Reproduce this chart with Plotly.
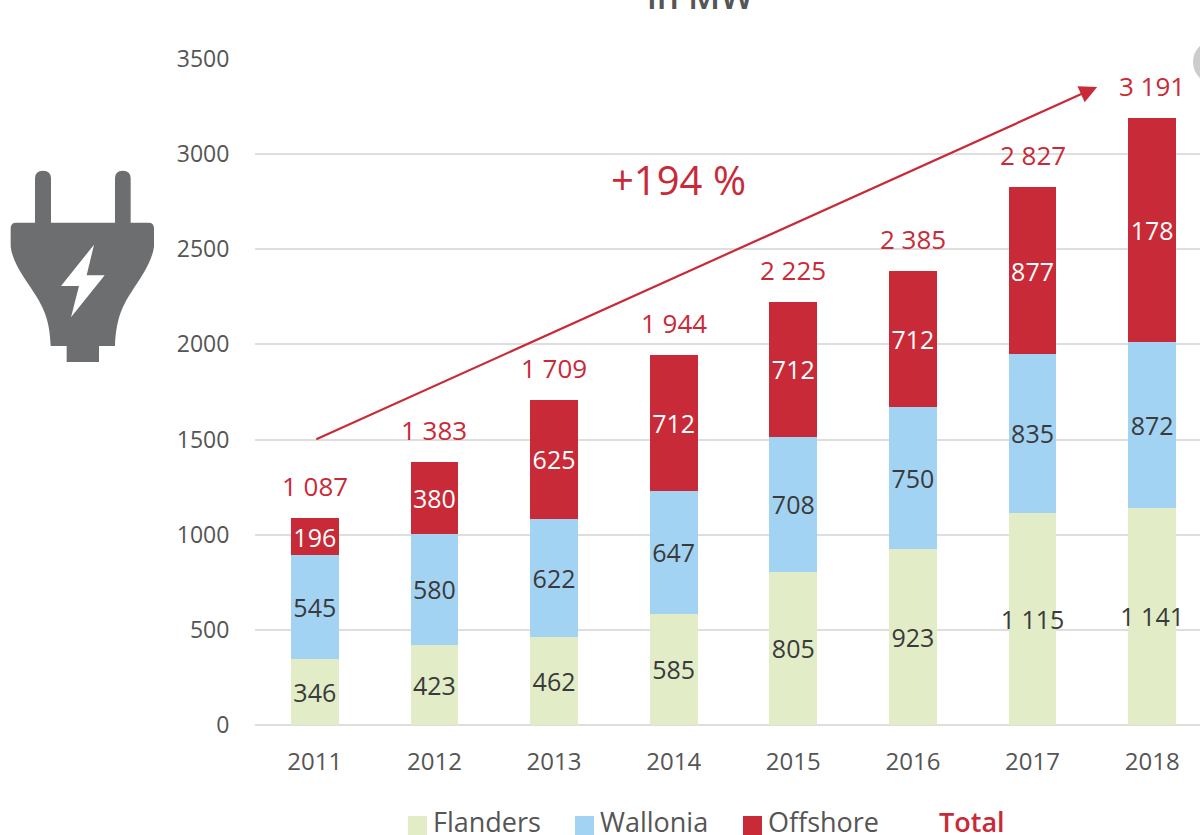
import plotly.graph_objects as go

years = [2011, 2012, 2013, 2014, 2015, 2016, 2017, 2018]
flanders = [346, 423, 462, 585, 805, 923, 1115, 1141]
wallonia = [545, 580, 622, 647, 708, 750, 835, 872]
offshore = [196, 380, 625, 712, 712, 712, 877, 1178]
flanders_labels = ["346", "423", "462", "585", "805", "923", "1 115", "1 141"]
wallonia_labels = ["545", "580", "622", "647", "708", "750", "835", "872"]
offshore_labels = ["196", "380", "625", "712", "712", "712", "877", "178"]
total_labels = ["1 087", "1 383", "1 709", "1 944", "2 225", "2 385", "2 827", "3 191"]
y_ticks = [0, 500, 1000, 1500, 2000, 2500, 3000, 3500]
legend_items = ["Flanders", "Wallonia", "Offshore"]

GREEN, BLUE, RED, GREY, TEXT, GRID = "#E2EDC8", "#A3D3F3", "#C92A38", "#6D6E70", "#555555", "#DEDEDE"
FONT = "Open Sans"
W, H = 1200, 835
L, T, B = 255, 59, 110
PW, PH = W - L, H - T - B

def px(x):
    return (x - L) / PW

def py(y):
    return (H - B - y) / PH

def zx(x):
    return f"{px(x / 3):.5f}"

def zy(y):
    return f"{py(150 + y / 3):.5f}"

def path(cmds):
    out = []
    for c in cmds:
        pts = c[1:]
        s = " ".join(f"{zx(pts[i])},{zy(pts[i + 1])}" for i in range(0, len(pts), 2))
        out.append(c[0] + " " + s if pts else c[0])
    return " ".join(out)

fig = go.Figure()
for name, vals, labels, color, tcol in [
    ("Flanders", flanders, flanders_labels, GREEN, "#3A3A3A"),
    ("Wallonia", wallonia, wallonia_labels, BLUE, "#3A3A3A"),
    ("Offshore", offshore, offshore_labels, RED, "#FFFFFF"),
]:
    fig.add_trace(go.Bar(
        x=years, y=vals, name=name, width=0.4, marker=dict(color=color, line=dict(width=0)),
        text=labels, textposition="inside", insidetextanchor="middle", textangle=0,
        constraintext="none", cliponaxis=False,
        insidetextfont=dict(family=FONT, size=25, color=tcol), hoverinfo="x+y+name",
    ))

totals = [a + b + c for a, b, c in zip(flanders, wallonia, offshore)]
annotations = [
    dict(x=xv, y=yv, text=t, showarrow=False, yanchor="bottom", yshift=12,
         font=dict(family=FONT, size=26, color=RED, weight=500))
    for xv, yv, t in zip(years, totals, total_labels)
]
annotations += [
    dict(x=2017.54, y=3353, ax=2011.0, ay=1498, axref="x", ayref="y", xref="x", yref="y",
         text="", showarrow=True, arrowhead=2, arrowsize=1.6, arrowwidth=2.2, arrowcolor=RED),
    dict(x=px(678), y=py(180), xref="paper", yref="paper", xanchor="center", yanchor="middle",
         text="+194 %", showarrow=False, font=dict(family=FONT, size=40, color=RED)),
    dict(x=px(700), y=py(21), xref="paper", yref="paper", xanchor="center", yanchor="bottom",
         text="in MW", showarrow=False, font=dict(family=FONT, size=35, color=TEXT, weight=600)),
]

shapes = [
    dict(type="circle", xref="paper", yref="paper", x0=px(1193), x1=px(1237), y0=py(40), y1=py(84),
         fillcolor="#CCCCCC", line=dict(width=0), layer="above"),
    dict(type="path", xref="paper", yref="paper", fillcolor=GREY, line=dict(width=0), path=path([
        ("M", 32, 235), ("Q", 32, 218, 48, 218), ("L", 105, 218), ("L", 105, 85),
        ("Q", 105, 62, 129, 62), ("Q", 153, 62, 153, 85), ("L", 153, 218), ("L", 345, 218),
        ("L", 345, 85), ("Q", 345, 62, 368, 62), ("Q", 392, 62, 392, 85), ("L", 392, 218),
        ("L", 446, 218), ("Q", 462, 218, 462, 235), ("L", 462, 290),
        ("C", 455, 340, 420, 385, 395, 425), ("C", 365, 470, 348, 510, 345, 588),
        ("L", 297, 588), ("L", 297, 636), ("L", 200, 636), ("L", 200, 588), ("L", 152, 588),
        ("C", 150, 510, 130, 470, 100, 425), ("C", 75, 385, 38, 340, 32, 290), ("Z",),
    ])),
    dict(type="path", xref="paper", yref="paper", fillcolor="#FFFFFF", line=dict(width=0), path=path([
        ("M", 282, 284), ("L", 183, 408), ("L", 237, 408), ("L", 213, 502),
        ("L", 314, 376), ("L", 260, 376), ("Z",),
    ])),
]
for name, color, x0, xt in zip(legend_items, [GREEN, BLUE, RED], [408, 575, 743], [431, 598, 766]):
    shapes.append(dict(type="rect", xref="paper", yref="paper", x0=px(x0), x1=px(x0 + 19),
                       y0=py(816), y1=py(836), fillcolor=color, line=dict(width=0)))
    annotations.append(dict(x=px(xt), y=py(821), xref="paper", yref="paper", xanchor="left", yanchor="middle",
                            text=name, showarrow=False, font=dict(family=FONT, size=27, color=TEXT)))
annotations.append(dict(x=px(937), y=py(821), xref="paper", yref="paper", xanchor="left", yanchor="middle",
                        text="Total", showarrow=False, font=dict(family=FONT, size=27, color=RED, weight=600)))

fig.update_layout(
    barmode="stack", width=W, height=H, autosize=False, showlegend=False,
    margin=dict(l=L, r=0, t=T, b=B, pad=0), paper_bgcolor="white", plot_bgcolor="white",
    annotations=annotations, shapes=shapes,
    xaxis=dict(range=[2010.5, 2018.4], tickmode="array", tickvals=years, ticktext=[str(v) for v in years],
               showgrid=False, zeroline=False, showline=False, ticks="outside", ticklen=15,
               tickcolor="rgba(0,0,0,0)", tickfont=dict(family=FONT, size=24, color=TEXT)),
    yaxis=dict(range=[0, 3500], tickmode="array", tickvals=y_ticks, gridcolor=GRID, gridwidth=2,
               zeroline=True, zerolinecolor=GRID, zerolinewidth=2, showline=False, ticks="outside",
               ticklen=20, tickcolor="rgba(0,0,0,0)", tickfont=dict(family=FONT, size=23, color=TEXT)),
)
fig.write_html("out.html", config=dict(displayModeBar=False),
               post_script="document.body.style.margin='0';document.documentElement.style.overflow='hidden';")
